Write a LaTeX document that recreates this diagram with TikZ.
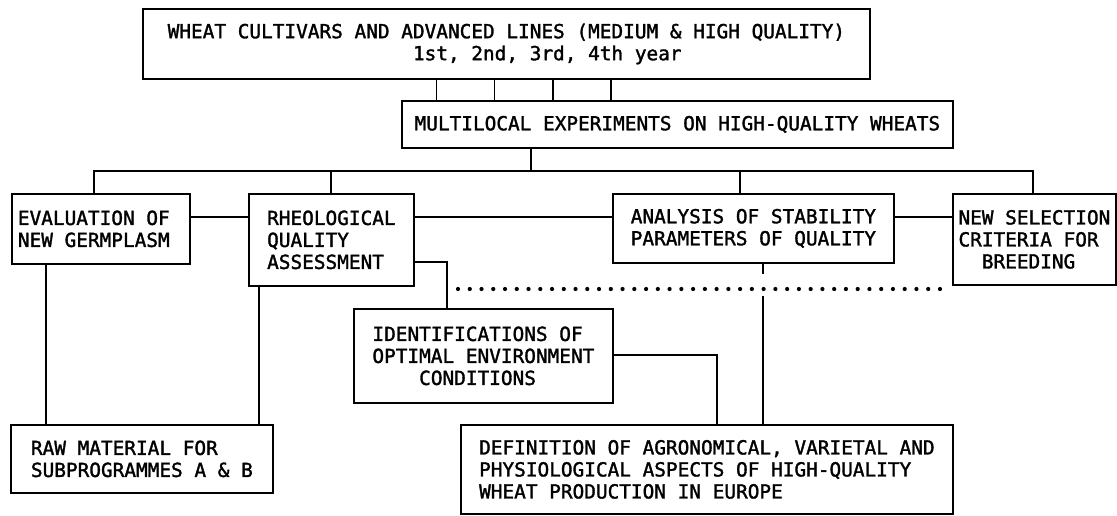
\documentclass[tikz,border=0pt]{standalone}
\usepackage{fontspec}
\newfontfamily\plotfont{DejaVu Sans Mono}[FakeBold=1.6]
\begin{document}
\begin{tikzpicture}[x=1pt,y=-1pt,
  cell/.style={draw, line width=1.8pt, inner sep=0pt, anchor=north west, align=left,
    font=\plotfont\fontsize{19.4}{22}\selectfont},
  link/.style={line width=1.8pt},
  dots/.style={line width=4.2pt, line cap=round, dash pattern=on 0pt off 11.755pt}]
\useasboundingbox (0,0) rectangle (1117,515);

% boxes
\node[cell, minimum width=727pt, minimum height=70pt] (wheat) at (142,8)
  {WHEAT CULTIVARS AND ADVANCED LINES (MEDIUM \& HIGH QUALITY)\\\phantom{XXXXXXXXXXXXXXXXXXXXX}1st, 2nd, 3rd, 4th year};
\node[cell, minimum width=551pt, minimum height=47pt] (multi) at (401,100)
  {MULTILOCAL EXPERIMENTS ON HIGH-QUALITY WHEATS};
\node[cell, minimum width=178pt, minimum height=70pt, text width=166pt, align=flush left] (eval) at (11,193)
  {EVALUATION OF\\NEW GERMPLASM};
\node[cell, minimum width=165pt, minimum height=92pt] (rheo) at (248,193)
  {RHEOLOGICAL\\QUALITY\\ASSESSMENT};
\node[cell, minimum width=281pt, minimum height=69pt] (stab) at (612,193)
  {ANALYSIS OF STABILITY\\PARAMETERS OF QUALITY};
\node[cell, minimum width=163pt, minimum height=91pt] (crit) at (952,193)
  {NEW SELECTION\\CRITERIA FOR\\\phantom{XX}BREEDING};
\node[cell, minimum width=259pt, minimum height=94pt] (env) at (353,308)
  {IDENTIFICATIONS OF\\OPTIMAL ENVIRONMENT\\\phantom{XXXX}CONDITIONS};
\node[cell, minimum width=262pt, minimum height=68pt] (raw) at (10,424)
  {RAW MATERIAL FOR\\SUBPROGRAMMES A \& B};
\node[cell, minimum width=492pt, minimum height=89pt] (def) at (460,424)
  {DEFINITION OF AGRONOMICAL, VARIETAL AND\\PHYSIOLOGICAL ASPECTS OF HIGH-QUALITY\\WHEAT PRODUCTION IN EUROPE};

% the four yearly links
\foreach \x [count=\i] in {436.5,494.5,553,611} {
  \coordinate (year\i) at (\x,90);
  \draw[link] (wheat.south -| year\i) -- (multi.north -| year\i);
}

% distribution bus
\coordinate (mdrop) at (531,171);
\coordinate (busL) at (94,171);
\coordinate (busR) at (1033,171);
\coordinate (rtap) at (331,171);
\coordinate (stap) at (740,171);
\draw[link] (multi.south -| mdrop) -- (mdrop);
\draw[link] (eval.north -| busL) -- (busL) -- (busR) -- (crit.north -| busR);
\draw[link] (rtap) -- (rheo.north -| rtap);
\draw[link] (stap) -- (stab.north -| stap);

% links along the row of boxes
\coordinate (row) at (0,217);
\draw[link] (eval.east |- row) -- (rheo.west |- row);
\draw[link] (rheo.east |- row) -- (stab.west |- row);
\draw[link] (stab.east |- row) -- (crit.west |- row);

% links down to the lower boxes
\coordinate (rturn) at (447,262);
\draw[link] (rheo.east |- rturn) -- (rturn) -- (env.north -| rturn);
\coordinate (eturn) at (716.7,355);
\draw[link] (env.east |- eturn) -- (eturn) -- (def.north -| eturn);
\coordinate (sgapA) at (763,274);
\coordinate (sgapB) at (763,296);
\draw[link] (stab.south -| sgapA) -- (sgapA);
\draw[link] (sgapB) -- (def.north -| sgapB);
\coordinate (ev) at (46,300);
\coordinate (rv) at (259,300);
\draw[link] (eval.south -| ev) -- (raw.north -| ev);
\draw[link] (rheo.south -| rv) -- (raw.north -| rv);

% dotted divider
\coordinate (dotA) at (458,289);
\coordinate (dotB) at (940,289);
\draw[dots] (dotA) -- (dotB);
\end{tikzpicture}
\end{document}
